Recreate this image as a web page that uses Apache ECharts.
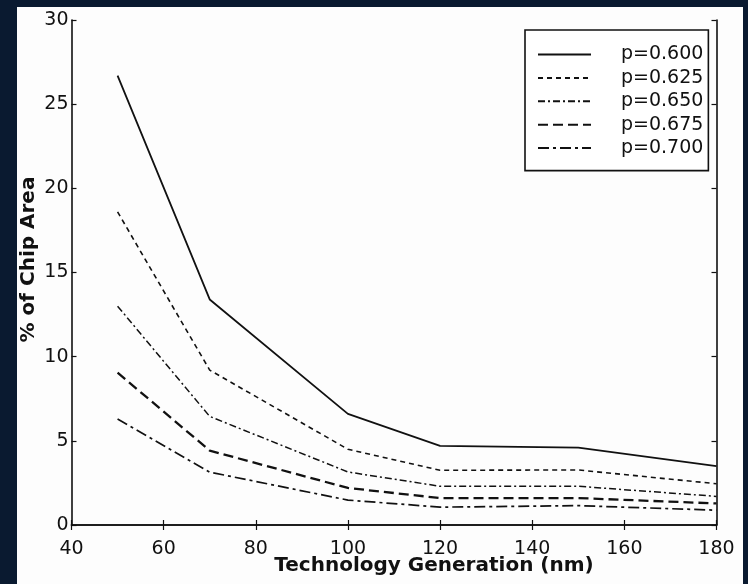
<!DOCTYPE html>
<html>
<head>
<meta charset="utf-8">
<script src="https://cdn.jsdelivr.net/npm/echarts@6/dist/echarts.min.js"></script>
<style>
html,body{margin:0;padding:0;background:#0a1a30;}
#wrap{position:relative;width:748px;height:584px;background:#0a1a30;overflow:hidden;}
#paper{position:absolute;left:17px;top:7px;width:726px;height:577px;background:#fdfdfd;}
#chart{position:absolute;left:0;top:0;width:748px;height:584px;}
</style>
</head>
<body>
<div id="wrap"><div id="paper"></div><div id="chart"></div></div>
<script>
// Technology generation (nm)
const techNodes = [50, 70, 100, 120, 150, 180];
const seriesNames = ['p=0.600', 'p=0.625', 'p=0.650', 'p=0.675', 'p=0.700'];
// % of chip area
const p600 = [26.7, 13.4, 6.6, 4.7, 4.6, 3.5];
const p625 = [18.6, 9.2, 4.5, 3.25, 3.27, 2.45];
const p650 = [13.0, 6.45, 3.15, 2.3, 2.3, 1.7];
const p675 = [9.05, 4.42, 2.2, 1.6, 1.6, 1.28];
const p700 = [6.3, 3.14, 1.48, 1.06, 1.15, 0.88];
const xTicks = [40, 60, 80, 100, 120, 140, 160, 180];
const yTicks = [0, 5, 10, 15, 20, 25, 30];

const allValues = [p600, p625, p650, p675, p700];
const dashTypes = ['solid', [5, 4], [7, 3, 2, 3], [10, 5], [11, 4, 3, 4]];
const widths = [1.8, 1.6, 1.5, 2.3, 1.7];
const ink = '#111';
const font = 'DejaVu Sans';

const chart = echarts.init(document.getElementById('chart'), null, {renderer: 'canvas'});

const axisCommon = {
  axisLine: {show: true, lineStyle: {color: ink, width: 1.6}},
  axisTick: {show: true, inside: true, length: 5, lineStyle: {color: ink, width: 1.2}},
  splitLine: {show: false}
};

const option = {
  backgroundColor: 'transparent',
  animation: false,
  grid: {left: 71.5, right: 31.5, top: 20, bottom: 59, containLabel: false},
  legend: {
    orient: 'vertical',
    left: 525,
    top: 30,
    data: seriesNames,
    itemWidth: 53,
    itemHeight: 14,
    itemGap: 4.4,
    padding: [15, 5, 13, 12],
    borderColor: ink,
    borderWidth: 1.6,
    backgroundColor: '#fff',
    itemStyle: {opacity: 0, borderWidth: 0},
    textStyle: {fontFamily: font, fontSize: 19, color: ink, padding: [0, 0, 0, 25]},
    inactiveColor: ink
  },
  xAxis: [
    Object.assign({}, axisCommon, {
      type: 'value', position: 'bottom', min: 40, max: 180, interval: 20,
      axisLabel: {show: true, margin: 15, color: ink, fontFamily: font, fontSize: 19},
      name: 'Technology Generation (nm)',
      nameLocation: 'middle',
      nameGap: 31,
      nameMoveOverlap: false,
      nameTextStyle: {fontFamily: font, fontSize: 20, fontWeight: 'bold', color: ink, padding: [0, 0, 0, 80]}
    }),
    Object.assign({}, axisCommon, {
      type: 'value', position: 'top', min: 40, max: 180, interval: 20,
      axisLabel: {show: false}
    })
  ],
  yAxis: [
    Object.assign({}, axisCommon, {
      type: 'value', position: 'left', min: 0, max: 30, interval: 5,
      axisLabel: {show: true, margin: 3, color: ink, fontFamily: font, fontSize: 19},
      name: '% of Chip Area',
      nameLocation: 'middle',
      nameGap: 33,
      nameMoveOverlap: false,
      nameTextStyle: {fontFamily: font, fontSize: 20, fontWeight: 'bold', color: ink, padding: [0, 0, 0, 26]}
    }),
    Object.assign({}, axisCommon, {
      type: 'value', position: 'right', min: 0, max: 30, interval: 5,
      axisLabel: {show: false}
    })
  ],
  series: seriesNames.map((name, i) => ({
    name: name,
    type: 'line',
    xAxisIndex: 0,
    yAxisIndex: 0,
    data: techNodes.map((x, j) => [x, allValues[i][j]]),
    symbol: 'none',
    showSymbol: false,
    color: ink,
    lineStyle: {color: ink, width: widths[i], type: dashTypes[i]},
    z: 3
  }))
};
chart.setOption(option);
</script>
</body>
</html>
